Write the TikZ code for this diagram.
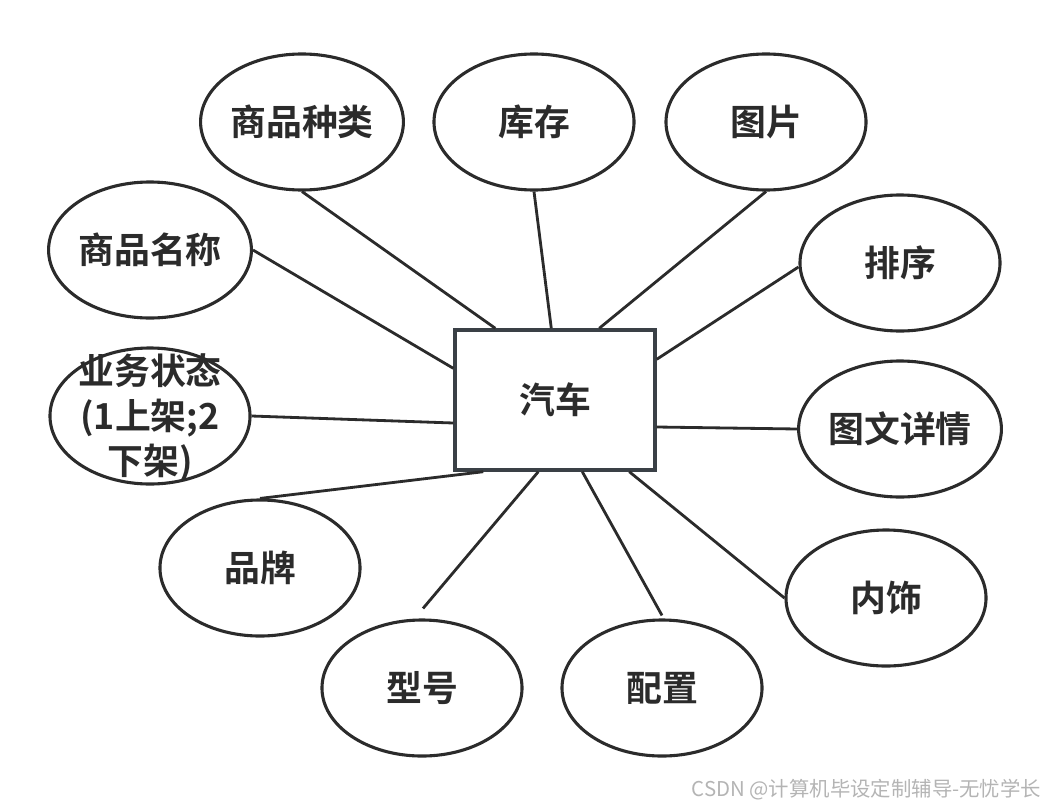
\documentclass[tikz,border=0pt]{standalone}
\usepackage{fontspec}
\newfontfamily\cjk{Noto Sans CJK SC}
\newfontfamily\cjkb{Noto Sans CJK SC Bold}
\usetikzlibrary{shapes.geometric,calc}
\definecolor{ink}{HTML}{2B2B2B}
\definecolor{boxline}{HTML}{3A4046}
\definecolor{wm}{HTML}{B4B4B4}
\tikzset{
  attr/.style={ellipse, draw=ink, line width=2.2pt, minimum width=5cm, minimum height=3.4cm, inner sep=0pt, font=\cjkb\fontsize{25.5}{30}\selectfont, text=ink},
  ent/.style={rectangle, draw=boxline, line width=2.4pt, minimum width=5cm, minimum height=3.5cm, font=\cjkb\fontsize{25.5}{30}\selectfont, text=ink},
  link/.style={draw=ink, line width=2pt}
}
\begin{document}
\begin{tikzpicture}[x=0.025cm,y=-0.025cm]
\useasboundingbox (0,0) rectangle (1050,808);
\node[ent] (car) at (555,400) {汽车};
\node[attr] (spzl) at (302,122) {商品种类};
\node[attr] (kc) at (534,122) {库存};
\node[attr] (tp) at (766,122) {图片};
\node[attr] (spmc) at (150,250) {商品名称};
\node[attr] (px) at (900,263) {排序};
\node[attr] (ywzt) at (150,416) {};
\node[font=\cjkb\fontsize{25.5}{32}\selectfont, text=ink, align=center] (ywztt) at (150,418) {业务状态\\(1上架;2\\下架)};
\node[attr] (twxq) at (900,429) {图文详情};
\node[attr] (pp) at (260,568) {品牌};
\node[attr] (xh) at (422,688) {型号};
\node[attr] (pz) at (662,688) {配置};
\node[attr] (ns) at (886,598) {内饰};
\draw[link] (spzl.south) -- ($(car.north west)+(42,0)$);
\draw[link] (kc.south) -- ($(car.north west)+(98,0)$);
\draw[link] (tp.south) -- ($(car.north west)+(146,0)$);
\draw[link] (spmc.east) -- ($(car.north west)+(0,40)$);
\draw[link] ($(px.west)+(0,4)$) -- ($(car.north east)+(0,31)$);
\draw[link] (ywzt.east) -- ($(car.west)+(0,23)$);
\draw[link] (twxq.west) -- ($(car.east)+(0,27)$);
\draw[link] (pp.north) -- ($(car.south west)+(30,0)$);
\draw[link] ($(xh.north)+(1,-10)$) -- ($(car.south west)+(85,0)$);
\draw[link] ($(pz.north)+(0,-3)$) -- ($(car.south west)+(129,0)$);
\draw[link] (ns.west) -- ($(car.south west)+(176,0)$);
\node[font=\cjk\fontsize{14.5}{17}\selectfont, text=wm, anchor=east] (wmk) at (1046,790) {CSDN @计算机毕设定制辅导-无忧学长};
\end{tikzpicture}
\end{document}
